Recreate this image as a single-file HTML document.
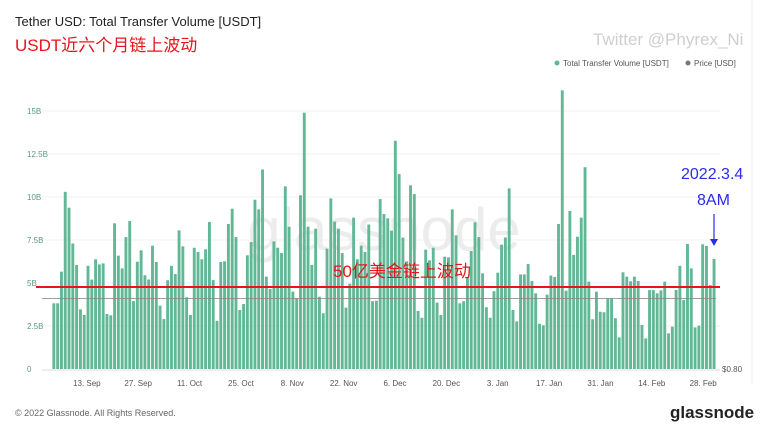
<!DOCTYPE html>
<html><head><meta charset="utf-8"><style>
body{margin:0;background:#fff;width:768px;height:432px;overflow:hidden;font-family:"Liberation Sans","Noto Sans CJK SC",sans-serif}
svg{display:block}
</style></head><body>
<svg id="c" width="768" height="432" font-family="Liberation Sans, Noto Sans CJK SC, sans-serif">
<text x="15" y="26" font-size="13" fill="#222">Tether USD: Total Transfer Volume [USDT]</text>
<text x="15" y="51" font-size="17" fill="#e8141a">USDT近六个月链上波动</text>
<text x="593" y="45" font-size="17" fill="#cfcfcf">Twitter @Phyrex_Ni</text>
<circle cx="557" cy="63" r="2.5" fill="#5cb896"/>
<text x="563" y="66" font-size="8" fill="#555">Total Transfer Volume [USDT]</text>
<circle cx="688" cy="63" r="2.5" fill="#777"/>
<text x="694" y="66" font-size="8" fill="#555">Price [USD]</text>
<line x1="752" y1="0" x2="752" y2="385" stroke="#eee"/>
<g id="grid"></g>
<text x="384" y="250" font-size="60" fill="#ececec" text-anchor="middle">glassnode</text>
<g id="bars"></g>
<g id="xt"></g>
<text x="722" y="372" font-size="8" fill="#555">$0.80</text>
<text x="15" y="416" font-size="9" fill="#666">© 2022 Glassnode. All Rights Reserved.</text>
<text x="670" y="418" font-size="17" fill="#222" font-weight="bold">glassnode</text>
<text x="681" y="179" font-size="16" fill="#2a2af0">2022.3.4</text>
<text x="697" y="205" font-size="16" fill="#2a2af0">8AM</text>
<line x1="714" y1="214" x2="714" y2="242" stroke="#2a2af0" stroke-width="1.2"/>
<path d="M710,239 L714,246 L718,239 Z" fill="#2a2af0"/>
</svg>
<script>
const yTicks=[0,2.5,5,7.5,10,12.5,15];
const yTickLabels=["0","2.5B","5B","7.5B","10B","12.5B","15B"];
const xTickDays=[9,23,37,51,65,79,93,107,121,135,149,163,177];
const xTickLabels=["13. Sep","27. Sep","11. Oct","25. Oct","8. Nov","22. Nov","6. Dec","20. Dec","3. Jan","17. Jan","31. Jan","14. Feb","28. Feb"];
const volume=[3.82,3.82,5.66,10.3,9.38,7.3,6.05,3.47,3.14,6.0,5.2,6.38,6.08,6.14,3.2,3.12,8.47,6.59,5.85,7.67,8.6,3.95,6.24,6.9,5.45,5.2,7.17,6.22,3.68,2.9,5.16,6.0,5.52,8.06,7.13,4.17,3.14,7.05,6.8,6.38,6.96,8.55,5.17,2.8,6.22,
6.26,8.43,9.32,7.67,3.43,3.78,6.61,7.38,9.84,9.28,11.6,5.37,4.65,7.42,7.05,6.74,10.62,8.27,4.5,4.1,10.1,14.9,8.27,6.05,8.16,4.2,3.24,7.0,9.92,8.57,8.16,6.74,3.57,4.96,8.8,6.38,7.17,6.8,8.4,3.94,3.97,9.88,9.01,8.76,8.04,13.27,
11.34,7.64,6.26,10.68,10.17,3.37,2.98,6.94,6.32,7.05,3.86,3.14,6.53,6.49,9.28,7.77,3.82,3.94,5.33,6.86,8.53,7.67,5.56,3.59,2.98,4.52,5.6,7.23,7.65,10.5,3.43,2.77,5.5,5.5,6.1,5.12,4.4,2.63,2.54,4.32,5.43,5.35,
8.43,16.2,4.55,9.19,6.63,7.69,8.8,11.73,5.08,2.89,4.5,3.33,3.3,4.1,4.1,2.95,1.84,5.62,5.37,5.1,5.37,5.12,2.56,1.78,4.59,4.59,4.4,4.57,5.08,2.07,2.46,4.59,6.0,4.01,7.27,5.85,2.42,2.52,7.25,7.15,4.88,6.4];
const priceLevel=[4.1];
const refLine=[4.77];
const NS='http://www.w3.org/2000/svg';
const X0=52,X1=716,Y0=369,PXB=17.2,DAYS=181;
const y=v=>Y0-v*PXB;
const bw=(X1-X0)/volume.length;
const xb=i=>X0+i*bw;
const xd=d=>X0+(d+0.5)*(X1-X0)/DAYS;
function mk(t,a,p){const e=document.createElementNS(NS,t);for(const k in a)e.setAttribute(k,a[k]);p.appendChild(e);return e;}
const grid=document.getElementById('grid');
yTicks.forEach((v,i)=>{
 if(i>0){const l=mk('line',{x1:X0-10,x2:X1+4,y1:y(v),y2:y(v),stroke:'#f0f0f0'},grid);
 
 }
 const t=mk('text',{x:27,y:y(v)+3,'font-size':8,fill:'#5a9c80'},grid);t.textContent=yTickLabels[i];
 
 
});
const bars=document.getElementById('bars');
volume.forEach((v,i)=>{
 const r=mk('rect',{x:xb(i)+0.4,y:y(v),width:bw-0.9,height:v*PXB,fill:'#62b896'},bars);
 
 
});
const pl=mk('line',{x1:X0-10,x2:X1,y1:y(priceLevel[0]),y2:y(priceLevel[0]),stroke:'#888','stroke-width':1,opacity:0.8},bars);


const rl=mk('line',{x1:X0-16,x2:X1+4,y1:y(refLine[0]),y2:y(refLine[0]),stroke:'#e8141a','stroke-width':2},bars);


const rt=mk('text',{x:333,y:y(refLine[0])-10,'font-size':17,fill:'#e8141a'},bars);rt.textContent='50亿美金链上波动';


const xt=document.getElementById('xt');
mk('line',{x1:X0-10,x2:X1+4,y1:Y0+1,y2:Y0+1,stroke:'#ddd'},xt);
xTickDays.forEach((d,i)=>{
 const t=mk('text',{x:xd(d),y:386,'font-size':8,fill:'#555','text-anchor':'middle'},xt);t.textContent=xTickLabels[i];
 
 
});
</script>
</body></html>
